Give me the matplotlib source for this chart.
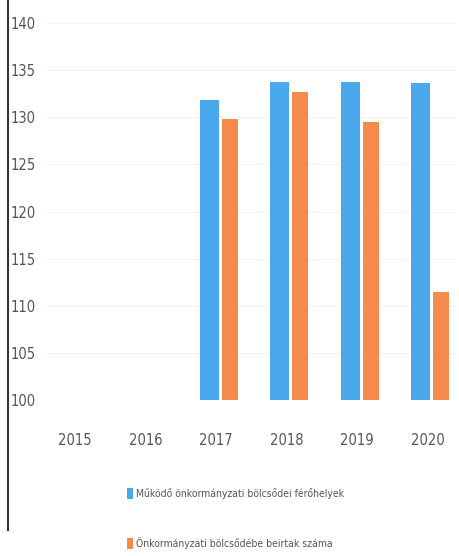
import matplotlib.pyplot as plt
from matplotlib.lines import Line2D
import numpy as np

# Data
years = ["2015", "2016", "2017", "2018", "2019", "2020"]
ferohelyek = [np.nan, np.nan, 131.8, 133.7, 133.7, 133.6]
beirtak = [np.nan, np.nan, 129.8, 132.7, 129.5, 111.5]
y_ticks = [100, 105, 110, 115, 120, 125, 130, 135, 140]
labels = ["Működő önkormányzati bölcsődei férőhelyek",
          "Önkormányzati bölcsődébe beirtak száma"]

blue = "#4aa8ec"
orange = "#f48a4c"
text_col = "#555555"

plt.rcParams['font.family'] = ['DejaVu Sans']
plt.rcParams['font.stretch'] = 'condensed'

fig = plt.figure(figsize=(4.59, 5.56), dpi=100)
ax = fig.add_axes([47 / 459, 1 - 400 / 556, 409 / 459, 377 / 556])

x = np.arange(len(years))
w = 0.27
base = 100
ax.bar(x - 0.1, np.array(ferohelyek) - base, w, bottom=base, color=blue, label=labels[0])
ax.bar(x + 0.19, np.array(beirtak) - base, w * 0.85, bottom=base, color=orange, label=labels[1])

ax.set_ylim(100, 140)
ax.set_xlim(-0.4, 5.4)
ax.set_yticks(y_ticks)
ax.set_xticks(x)
ax.set_xticklabels(years)
ax.tick_params(axis="both", length=0, colors=text_col, labelsize=10.5)
ax.tick_params(axis="x", pad=24)
ax.tick_params(axis="y", pad=8)
ax.grid(axis="y", color="#f2f2f2", linewidth=0.8)
ax.set_axisbelow(True)
for s in ax.spines.values():
    s.set_visible(False)

leg = fig.legend(loc="upper left", bbox_to_anchor=(118 / 459, 1 - 479 / 556),
                 frameon=False, fontsize=7.5, handlelength=0.5, handleheight=1.2,
                 handletextpad=0.3, labelspacing=3.6, labelcolor=text_col)

# scan border on the left
fig.add_artist(Line2D([8 / 459, 8 / 459], [1 - 530 / 556, 1.0], color="#333333",
                      linewidth=1.5, transform=fig.transFigure))

fig.savefig("out.png", dpi=100)
